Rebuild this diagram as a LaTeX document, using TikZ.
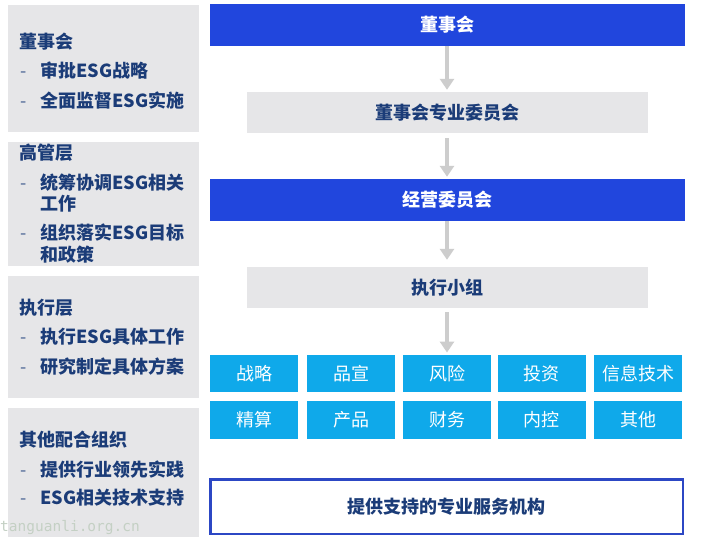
\documentclass[tikz,border=0pt]{standalone}
\usepackage{fontspec}
\setmainfont{Noto Sans CJK SC}
\newfontfamily\wmfont{DejaVu Sans Mono}
\usetikzlibrary{arrows.meta}
\definecolor{royal}{HTML}{2146DD}
\definecolor{sky}{HTML}{0FA9EA}
\definecolor{pale}{HTML}{E6E6E8}
\definecolor{navy}{HTML}{1B3C78}
\definecolor{arrowgray}{HTML}{CDCDCD}
\definecolor{framecol}{HTML}{2C47C4}
\definecolor{wmcol}{HTML}{C4D0C4}
\begin{document}
\begin{tikzpicture}[x=1pt,y=-1pt,
 txt/.style={font=\fontsize{18}{22}\selectfont\bfseries, text height=13.7pt, text depth=0pt, inner sep=0pt},
 bluebar/.style={txt, fill=royal, text=white, minimum width=475pt, minimum height=42pt},
 graybar/.style={txt, fill=pale, text=navy, minimum width=401pt, minimum height=41pt},
 cell/.style={txt, font=\fontsize{18}{22}\selectfont, fill=sky, text=white, minimum width=88pt, minimum height=37.5pt},
 panel/.style={fill=pale, minimum width=191pt, inner sep=0pt},
 headtxt/.style={txt, text=navy, anchor=west},
 itemtxt/.style={txt, text=navy, anchor=west},
 bul/.style={font=\fontsize{18}{22}\selectfont, text=navy!80, text height=13.7pt, text depth=0pt, inner sep=0pt, anchor=west},
 flow/.style={draw=arrowgray, line width=4pt, -{Triangle[width=14pt,length=11pt]}}
]
\fill[white] (0,0) rectangle (710,537);
\useasboundingbox (0,0) rectangle (710,537);

% left panels
\node[panel, minimum height=127pt] (p1) at (103.5,68.5) {};
\node[panel, minimum height=124pt] (p2) at (103.5,204) {};
\node[panel, minimum height=122pt] (p3) at (103.5,337) {};
\node[panel, minimum height=129pt] (p4) at (103.5,472.5) {};

\node[headtxt] (h1) at (19,42) {董事会};
\node[bul] (d11) at (20,71) {-};
\node[itemtxt] (i11) at (40,71) {审批ESG战略};
\node[bul] (d12) at (20,101) {-};
\node[itemtxt] (i12) at (40,101) {全面监督ESG实施};

\node[headtxt] (h2) at (19,153) {高管层};
\node[bul] (d21) at (20,183) {-};
\node[itemtxt] (i21) at (40,183) {统筹协调ESG相关};
\node[itemtxt] (i21b) at (40,204) {工作};
\node[bul] (d22) at (20,233) {-};
\node[itemtxt] (i22) at (40,233) {组织落实ESG目标};
\node[itemtxt] (i22b) at (40,255) {和政策};

\node[headtxt] (h3) at (19,308) {执行层};
\node[bul] (d31) at (20,337) {-};
\node[itemtxt] (i31) at (40,337) {执行ESG具体工作};
\node[bul] (d32) at (20,367) {-};
\node[itemtxt] (i32) at (40,367) {研究制定具体方案};

\node[headtxt] (h4) at (19,440) {其他配合组织};
\node[bul] (d41) at (20,470) {-};
\node[itemtxt] (i41) at (40,470) {提供行业领先实践};
\node[bul] (d42) at (20,498) {-};
\node[itemtxt] (i42) at (40,498) {ESG相关技术支持};

% central flow
\node[bluebar] (b1) at (447,25) {董事会};
\node[graybar] (g1) at (447,112.5) {董事会专业委员会};
\node[bluebar] (b2) at (447,200) {经营委员会};
\node[graybar] (g2) at (447,287.5) {执行小组};

\node[cell] (c11) at (254,373.5) {战略};
\node[cell] (c12) at (351,373.5) {品宣};
\node[cell] (c13) at (447,373.5) {风险};
\node[cell] (c14) at (541.5,373.5) {投资};
\node[cell] (c15) at (638,373.5) {信息技术};
\node[cell] (c21) at (254,420) {精算};
\node[cell] (c22) at (351,420) {产品};
\node[cell] (c23) at (447,420) {财务};
\node[cell] (c24) at (541.5,420) {内控};
\node[cell] (c25) at (638,420) {其他};

\node[txt, draw=framecol, line width=2.5pt, text=navy, minimum width=472.5pt, minimum height=54.5pt] (sv) at (446.5,506.5) {提供支持的专业服务机构};

\draw[flow, shorten >=2pt] (b1.south) -- (g1.north);
\draw[flow, shorten <=5pt, shorten >=2pt] (g1.south) -- (b2.north);
\draw[flow, shorten >=7pt] (b2.south) -- (g2.north);
\draw[flow, shorten <=4pt, shorten >=2pt] (g2.south) -- (c13.north);

\node[font=\wmfont\fontsize{14.5}{16}\selectfont, text=wmcol, anchor=west, inner sep=0pt] (wm) at (0,528) {tanguanli.org.cn};
\end{tikzpicture}
\end{document}
